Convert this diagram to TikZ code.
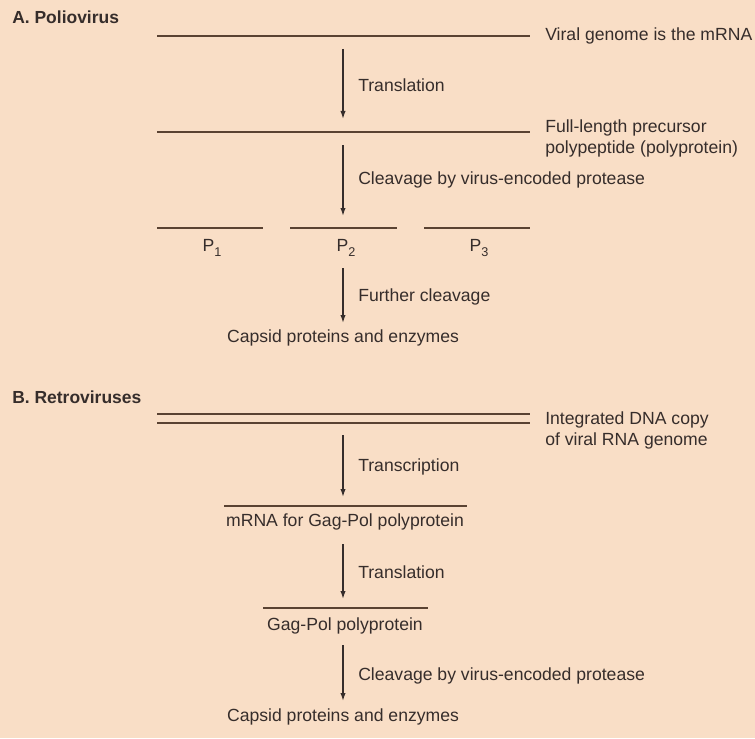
\documentclass[tikz,border=0pt]{standalone}
\usepackage{fontspec}
\setmainfont{Liberation Sans}
\usetikzlibrary{arrows.meta}

\definecolor{paper}{HTML}{F9DEC6}
\definecolor{ink}{HTML}{362D2B}
\definecolor{strandcol}{HTML}{5A4232}

\newcommand{\psub}[1]{P\raisebox{-0.55ex}{\fontsize{9.5pt}{10pt}\selectfont #1}}

\tikzset{
  strand/.style={line width=1.5pt, strandcol},
  flow/.style={line width=1pt, ink, -{Latex[length=6pt,width=4pt]}},
  lbl/.style={inner sep=0pt, anchor=west, align=left, text=ink,
    font=\fontsize{13.2pt}{15.75pt}\selectfont},
  title/.style={lbl, font=\fontsize{13.1pt}{15.75pt}\selectfont\bfseries},
  mid/.style={lbl, anchor=center, align=center}
}

\begin{document}
\begin{tikzpicture}[x=0.75pt, y=-0.75pt]
  %%%%% BACKGROUND %%%%%
  \fill[paper] (0,0) rectangle (755,738);
  \useasboundingbox (0,0) rectangle (755,738);

  %%%%% A. POLIOVIRUS %%%%%
  \node[title] (titleA) at (12,17) {A. Poliovirus};

  % genome = mRNA
  \draw[strand] (157,36) coordinate (genomeL) -- (530,36) coordinate (genomeR);
  \node[lbl] (genome) at (545,36) {Viral genome is the mRNA};

  \coordinate (a1s) at (343,49);
  \coordinate (a1e) at (343,119);
  \draw[flow] (a1s) -- (a1e);
  \node[lbl] (transA) at (358,85) {Translation};

  % precursor
  \draw[strand] (157,132) coordinate (precL) -- (530,132) coordinate (precR);
  \node[lbl] (prec) at (545,138) {Full-length precursor\\polypeptide (polyprotein)};

  \coordinate (a2s) at (343,145);
  \coordinate (a2e) at (343,216);
  \draw[flow] (a2s) -- (a2e);
  \node[lbl] (cleaveA) at (358,180) {Cleavage by virus-encoded protease};

  % three cleavage products
  \draw[strand] (157,228) -- (263,228);
  \draw[strand] (290,228) -- (397,228);
  \draw[strand] (424,228) -- (530,228);
  \node[mid] (p1) at (212,248) {\psub{1}};
  \node[mid] (p2) at (346,248) {\psub{2}};
  \node[mid] (p3) at (479,248) {\psub{3}};

  \coordinate (a3s) at (343,268);
  \coordinate (a3e) at (343,323);
  \draw[flow] (a3s) -- (a3e);
  \node[lbl] (further) at (358,297) {Further cleavage};

  \node[mid] (capsidA) at (343,338) {Capsid proteins and enzymes};

  %%%%% B. RETROVIRUSES %%%%%
  \node[title] (titleB) at (12,397) {B. Retroviruses};

  % provirus (double strand)
  \draw[strand] (157,414) -- (530,414);
  \draw[strand] (157,423) -- (530,423);
  \node[lbl] (provirus) at (545,430) {Integrated DNA copy\\of viral RNA genome};

  \coordinate (b1s) at (343,435);
  \coordinate (b1e) at (343,497);
  \draw[flow] (b1s) -- (b1e);
  \node[lbl] (transcr) at (358,467) {Transcription};

  \draw[strand] (224,506) -- (467,506);
  \node[mid] (mrna) at (345,522) {mRNA for Gag-Pol polyprotein};

  \coordinate (b2s) at (343,544);
  \coordinate (b2e) at (343,599);
  \draw[flow] (b2s) -- (b2e);
  \node[lbl] (transB) at (358,572) {Translation};

  \draw[strand] (263,608) -- (428,608);
  \node[mid] (gagpol) at (345,626) {Gag-Pol polyprotein};

  \coordinate (b3s) at (343,645);
  \coordinate (b3e) at (343,701);
  \draw[flow] (b3s) -- (b3e);
  \node[lbl] (cleaveB) at (358,676) {Cleavage by virus-encoded protease};

  \node[mid] (capsidB) at (343,717) {Capsid proteins and enzymes};
\end{tikzpicture}
\end{document}
